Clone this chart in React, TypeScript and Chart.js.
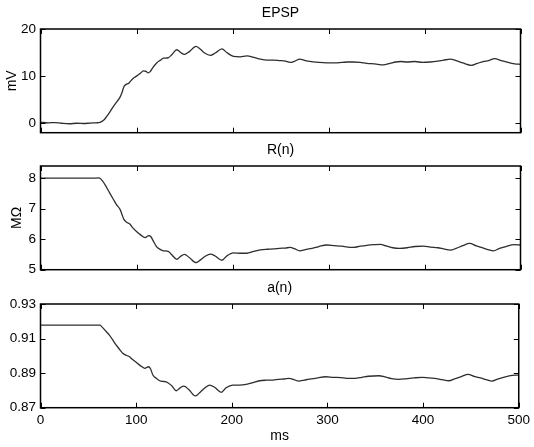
import React, { useEffect, useRef } from "react";
import { Chart, registerables } from "chart.js";
Chart.register(...registerables);

const FONT = "'Liberation Sans', Arial, Helvetica, sans-serif";

const xTicks = [0, 100, 200, 300, 400, 500];

const epspTicks = [0, 10, 20];
const rTicks = [5, 6, 7, 8];
const aTicks = [0.87, 0.89, 0.91, 0.93];

const epspT = [0, 8, 15, 22, 30, 38, 45, 52, 58, 62, 66, 69, 72, 76, 80, 83, 85, 87, 89, 92, 94, 97, 100, 104, 107, 110, 112, 114, 117, 121, 125, 128, 133, 137, 142, 146, 150, 155, 162, 166, 171, 177, 182, 189, 194, 201, 208, 215, 222, 229, 236, 243, 249, 255, 260, 265, 270, 276, 282, 290, 298, 306, 314, 320, 326, 333, 340, 348, 357, 364, 370, 375, 382, 390, 398, 406, 414, 420, 427, 433, 440, 449, 455, 461, 467, 473, 480, 487, 494, 500];
const epspV = [0.2, 0.1, 0.15, 0.0, -0.1, 0.0, -0.05, 0.05, 0.1, 0.2, 0.7, 1.45, 2.3, 3.6, 4.7, 5.6, 6.6, 7.8, 8.2, 8.5, 9.0, 9.6, 10.0, 10.6, 11.1, 11.0, 10.7, 10.9, 11.8, 12.8, 13.4, 13.8, 13.9, 14.6, 15.6, 15.0, 14.6, 15.2, 16.3, 15.8, 14.9, 14.4, 14.9, 15.8, 15.0, 14.2, 14.1, 14.3, 14.0, 13.6, 13.4, 13.4, 13.3, 13.2, 12.9, 13.2, 13.6, 13.3, 13.1, 12.9, 12.8, 12.8, 12.9, 13.0, 13.0, 12.9, 12.7, 12.6, 12.4, 12.7, 13.0, 13.1, 13.0, 13.1, 12.9, 13.0, 13.2, 13.4, 13.6, 13.3, 12.8, 12.3, 12.7, 13.1, 13.3, 13.7, 13.3, 12.9, 12.6, 12.5];

const rT = [0, 20, 40, 55, 60, 63, 67, 72, 76, 79, 83, 85, 87, 90, 93, 96, 100, 104, 109, 113, 115, 117, 121, 125, 128, 133, 137, 142, 146, 150, 155, 162, 167, 172, 177, 182, 189, 194, 201, 208, 215, 222, 229, 236, 243, 249, 255, 260, 265, 270, 276, 281, 290, 298, 306, 314, 320, 326, 333, 340, 348, 354, 360, 367, 374, 382, 390, 399, 406, 414, 420, 427, 433, 440, 447, 454, 460, 466, 472, 478, 486, 493, 500];
const rV = [8.0, 8.0, 8.0, 8.0, 8.01, 7.97, 7.8, 7.52, 7.3, 7.14, 6.97, 6.8, 6.64, 6.55, 6.5, 6.38, 6.25, 6.15, 6.05, 6.12, 6.08, 5.97, 5.75, 5.66, 5.62, 5.6, 5.48, 5.34, 5.44, 5.5, 5.4, 5.23, 5.33, 5.45, 5.51, 5.45, 5.31, 5.45, 5.55, 5.54, 5.54, 5.6, 5.65, 5.67, 5.68, 5.7, 5.71, 5.73, 5.68, 5.62, 5.66, 5.69, 5.76, 5.81, 5.79, 5.77, 5.74, 5.73, 5.77, 5.8, 5.82, 5.83, 5.78, 5.72, 5.7, 5.72, 5.76, 5.77, 5.74, 5.72, 5.68, 5.64, 5.7, 5.79, 5.86, 5.78, 5.72, 5.66, 5.62, 5.7, 5.77, 5.82, 5.81];

const aT = [0, 20, 40, 55, 62, 64, 68, 72, 76, 79, 83, 86, 90, 93, 96, 100, 104, 109, 113, 115, 117.5, 121, 124.5, 128, 131.5, 137, 142, 146, 150, 155, 162, 167, 172, 177, 182, 189, 194, 201, 208, 215, 222, 229, 236, 243, 249, 255, 260, 265, 270, 276, 281, 290, 298, 306, 314, 320, 329, 336, 343, 354, 360, 367, 374.5, 382, 390, 399, 406, 414, 420, 427, 433, 440, 447, 454, 460, 466, 472, 478, 486, 493, 500];
const aV = [0.9178, 0.9178, 0.9178, 0.9178, 0.9178, 0.9169, 0.9145, 0.912, 0.9088, 0.9063, 0.9035, 0.9015, 0.9002, 0.8995, 0.898, 0.8963, 0.8945, 0.8928, 0.8937, 0.8925, 0.8889, 0.887, 0.8856, 0.8852, 0.885, 0.8828, 0.8798, 0.8815, 0.8825, 0.8805, 0.8768, 0.879, 0.8815, 0.8831, 0.8818, 0.8789, 0.8815, 0.8831, 0.8831, 0.8835, 0.8845, 0.8856, 0.8859, 0.886, 0.8864, 0.8866, 0.887, 0.8862, 0.8854, 0.886, 0.8865, 0.8873, 0.8879, 0.8876, 0.8874, 0.887, 0.887, 0.8876, 0.8882, 0.8885, 0.8878, 0.8868, 0.8864, 0.8867, 0.8872, 0.8876, 0.8872, 0.8868, 0.8862, 0.8856, 0.8867, 0.888, 0.8893, 0.888, 0.8872, 0.8862, 0.8854, 0.8866, 0.8879, 0.8887, 0.8889];

const framePlugin = {
  id: "frame",
  afterDraw(chart: any) {
    const { ctx, chartArea, scales } = chart;
    const { left, right, top, bottom } = chartArea;
    const tl = 5;
    ctx.save();
    ctx.strokeStyle = "#000";
    ctx.lineWidth = 1;
    ctx.beginPath();
    xTicks.forEach((v) => {
      const px = Math.round(scales.x.getPixelForValue(v)) + 0.5;
      ctx.moveTo(px, top);
      ctx.lineTo(px, top + tl);
      ctx.moveTo(px, bottom);
      ctx.lineTo(px, bottom - tl);
    });
    scales.y.ticks.forEach((t: any) => {
      const py = Math.round(scales.y.getPixelForValue(t.value)) + 0.5;
      ctx.moveTo(left, py);
      ctx.lineTo(left + tl, py);
      ctx.moveTo(right, py);
      ctx.lineTo(right - tl, py);
    });
    ctx.stroke();
    ctx.lineWidth = 1.5;
    ctx.strokeRect(left, top, right - left, bottom - top);
    ctx.restore();
  },
};

type PanelProps = {
  top: number;
  height: number;
  title: string;
  t: number[];
  v: number[];
  yMin: number;
  yMax: number;
  yTicks: number[];
  yLabel?: string;
  yLabelPad?: number;
  showX: boolean;
  decimals: number;
};

function Panel(p: PanelProps) {
  const ref = useRef<HTMLCanvasElement | null>(null);
  useEffect(() => {
    if (!ref.current) return;
    const chart = new Chart(ref.current, {
      type: "line",
      data: {
        datasets: [
          {
            data: p.t.map((x, i) => ({ x, y: p.v[i] })),
            borderColor: "#2e2e2e",
            borderWidth: 1.3,
            pointRadius: 0,
            fill: false,
            cubicInterpolationMode: "monotone",
          },
        ],
      },
      options: {
        responsive: false,
        animation: false,
        devicePixelRatio: 1,
        layout: { autoPadding: false, padding: { left: 0, right: 13.5, top: 0, bottom: p.showX ? 0 : 7.3 } },
        plugins: {
          legend: { display: false },
          tooltip: { enabled: false },
          title: {
            display: true,
            text: p.title,
            fullSize: false,
            color: "#000",
            font: { family: FONT, size: 14, weight: "normal" },
            padding: { top: 4.5, bottom: 7.7 },
          },
        },
        scales: {
          x: {
            type: "linear",
            min: 0,
            max: 500,
            display: p.showX,
            afterBuildTicks: (s: any) => {
              s.ticks = xTicks.map((value) => ({ value }));
            },
            afterFit: (s: any) => {
              if (p.showX) s.height = 39.3;
            },
            grid: { display: false, drawTicks: false },
            border: { display: false },
            ticks: {
              color: "#000",
              font: { family: FONT, size: 13.5 },
              padding: 4,
              maxRotation: 0,
              minRotation: 0,
              autoSkip: false,
            },
            title: {
              display: true,
              text: "ms",
              color: "#000",
              font: { family: FONT, size: 14 },
              padding: { top: 0, bottom: 2 },
            },
          },
          y: {
            type: "linear",
            min: p.yMin,
            max: p.yMax,
            afterBuildTicks: (s: any) => {
              s.ticks = p.yTicks.map((value) => ({ value }));
            },
            afterFit: (s: any) => {
              s.width = 40.5;
              s.paddingTop = 0;
              s.paddingBottom = 0;
            },
            grid: { display: false, drawTicks: false },
            border: { display: false },
            ticks: {
              color: "#000",
              font: { family: FONT, size: 13.5 },
              padding: 4.5,
              autoSkip: false,
              callback: (val: any) => Number(val).toFixed(p.decimals),
            },
            title: {
              display: !!p.yLabel,
              text: p.yLabel || "",
              color: "#000",
              font: { family: FONT, size: 14 },
              padding: { top: p.yLabelPad || 0, bottom: 0 },
            },
          },
        },
      } as any,
      plugins: [framePlugin],
    });
    return () => chart.destroy();
  }, []);
  return (
    <canvas
      ref={ref}
      width={534}
      height={p.height}
      style={{ position: "absolute", left: 0, top: p.top, width: 534, height: p.height }}
    />
  );
}

export default function App() {
  return (
    <div style={{ position: "fixed", left: 0, top: 0, width: 534, height: 447, background: "#fff", overflow: "hidden" }}>
      <Panel top={0} height={140} title="EPSP" t={epspT} v={epspV} yMin={-2} yMax={20} yTicks={epspTicks} yLabel="mV" yLabelPad={4} showX={false} decimals={0} />
      <Panel top={137} height={140} title="R(n)" t={rT} v={rV} yMin={5} yMax={8.4} yTicks={rTicks} yLabel="MΩ" yLabelPad={9} showX={false} decimals={0} />
      <Panel top={275} height={172} title="a(n)" t={aT} v={aV} yMin={0.87} yMax={0.93} yTicks={aTicks} showX={true} decimals={2} />
    </div>
  );
}
